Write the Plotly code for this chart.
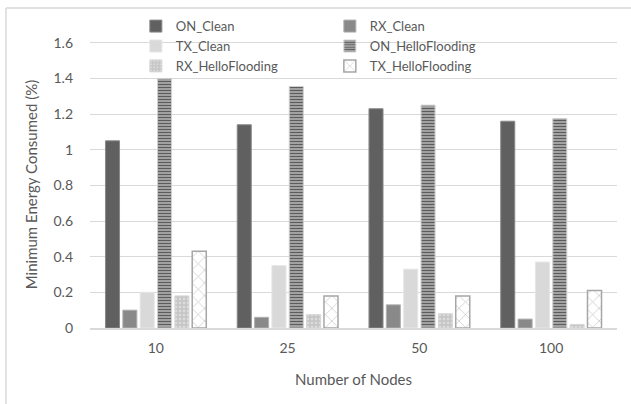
import plotly.graph_objects as go

nodes = ["10", "25", "50", "100"]
on_clean = [1.05, 1.14, 1.23, 1.16]
rx_clean = [0.10, 0.06, 0.13, 0.05]
tx_clean = [0.20, 0.35, 0.33, 0.37]
on_hello = [1.40, 1.355, 1.25, 1.175]
rx_hello = [0.18, 0.075, 0.08, 0.02]
tx_hello = [0.43, 0.18, 0.18, 0.21]

y_ticks = [0, 0.2, 0.4, 0.6, 0.8, 1, 1.2, 1.4, 1.6]
y_tick_labels = ["0", "0.2", "0.4", "0.6", "0.8", "1", "1.2", "1.4", "1.6"]

FONT = "Lato"
TXT = "#595959"

fig = go.Figure()

fig.add_bar(name="ON_Clean", x=nodes, y=on_clean,
            marker=dict(color="#606060", line=dict(color="#8a8a8a", width=1)))
fig.add_bar(name="RX_Clean", x=nodes, y=rx_clean,
            marker=dict(color="#898989", line=dict(color="#b0b0b0", width=1)))
fig.add_bar(name="TX_Clean", x=nodes, y=tx_clean,
            marker=dict(color="#d9d9d9", line=dict(color="#e6e6e6", width=1)))
fig.add_bar(name="ON_HelloFlooding", x=nodes, y=on_hello,
            marker=dict(color="#b0b0b0",
                        pattern=dict(shape="-", fgcolor="#000000", bgcolor="#b8b8b8",
                                     size=3, solidity=0.5),
                        line=dict(color="#d0d0d0", width=1)))
fig.add_bar(name="RX_HelloFlooding", x=nodes, y=rx_hello,
            marker=dict(color="#c8c8c8",
                        pattern=dict(shape=".", fgcolor="#f2f2f2", bgcolor="#c6c6c6",
                                     size=4, solidity=0.3),
                        line=dict(color="#d6d6d6", width=1)))
fig.add_bar(name="TX_HelloFlooding", x=nodes, y=tx_hello,
            marker=dict(color="#ffffff",
                        pattern=dict(shape="x", fgcolor="#8c8c8c", bgcolor="#ffffff",
                                     size=9, solidity=0.15),
                        line=dict(color="#a6a6a6", width=1.5)))

# chart-area frame (top and left edges only)
PLOT_W, PLOT_H = 527, 287
fig.add_shape(type="line", xref="paper", yref="paper",
              x0=-84 / PLOT_W, x1=541 / PLOT_W, y0=320 / PLOT_H, y1=320 / PLOT_H,
              line=dict(color="#d9d9d9", width=1.5))
fig.add_shape(type="line", xref="paper", yref="paper",
              x0=-84 / PLOT_W, x1=-84 / PLOT_W, y0=320 / PLOT_H, y1=-80 / PLOT_H,
              line=dict(color="#d9d9d9", width=1.5))

fig.update_layout(
    width=631, height=404,
    margin=dict(l=90, r=14, t=41, b=76, autoexpand=False),
    paper_bgcolor="white", plot_bgcolor="white",
    barmode="group", bargap=0.21, bargroupgap=0.19,
    font=dict(family=FONT, size=14, color=TXT),
    legend=dict(orientation="h", x=0.087, xanchor="left", y=1.104, yanchor="top",
                entrywidth=149, entrywidthmode="pixels",
                bgcolor="rgba(0,0,0,0)", font=dict(family=FONT, size=13, color=TXT),
                tracegroupgap=0, traceorder="normal"),
    xaxis=dict(type="category", showgrid=False, showline=True, linecolor="#d9d9d9",
               linewidth=1.5, ticks="", ticklabelstandoff=6,
               tickfont=dict(size=14, color=TXT),
               title=dict(text="Number of Nodes", font=dict(size=15, color=TXT), standoff=20)),
    yaxis=dict(range=[0, 1.61], tickvals=y_ticks, ticktext=y_tick_labels,
               showgrid=True, gridcolor="#d9d9d9", gridwidth=1,
               zeroline=False, showline=False, ticks="", ticklabelstandoff=16,
               tickfont=dict(size=14, color=TXT),
               title=dict(text="Minimum Energy Consumed (%)", font=dict(size=15, color=TXT),
                          standoff=12)),
)

fig.write_html("out.html")
